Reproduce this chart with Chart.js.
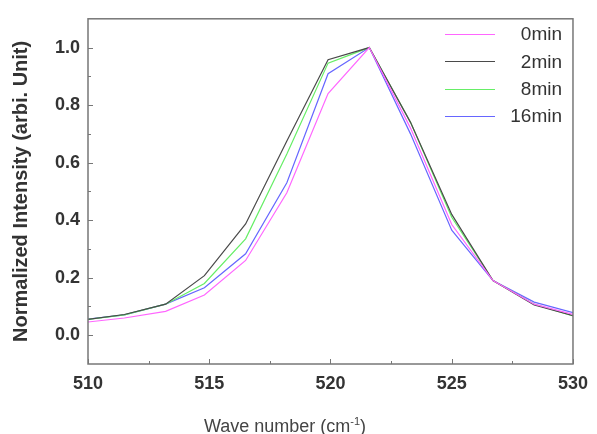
<!DOCTYPE html>
<html>
<head>
<meta charset="utf-8">
<script src="https://cdn.jsdelivr.net/npm/chart.js@4"></script>
<style>
  html, body { margin: 0; padding: 0; background: #fff; }
  #wrap { width: 597px; height: 434px; position: relative; }
</style>
</head>
<body>
<div id="wrap"><canvas id="grafico"></canvas></div>
<script>
// dados
const waveNumber = [509.9, 511.5, 513.2, 514.8, 516.5, 518.2, 519.9, 521.6, 523.3, 525.0, 526.7, 528.4, 530.1];
const min0  = [0.045, 0.060, 0.083, 0.140, 0.260, 0.495, 0.840, 1.0, 0.720, 0.385, 0.190, 0.108, 0.070];
const min2  = [0.054, 0.072, 0.108, 0.207, 0.387, 0.675, 0.958, 1.0, 0.740, 0.420, 0.190, 0.105, 0.066];
const min8  = [0.054, 0.071, 0.108, 0.180, 0.335, 0.630, 0.946, 1.0, 0.740, 0.410, 0.190, 0.108, 0.065];
const min16 = [0.055, 0.071, 0.108, 0.165, 0.283, 0.530, 0.909, 1.0, 0.700, 0.365, 0.190, 0.115, 0.076];
const seriesNames = ['0min', '2min', '8min', '16min'];
const xTicks = [510, 515, 520, 525, 530];
const yTicks = [0.0, 0.2, 0.4, 0.6, 0.8, 1.0];

const cores = ['#ff66ff', '#4a4a4a', '#66ee66', '#6666ff'];
const series = [min0, min2, min8, min16];
const fonte = '"Liberation Sans", Arial, sans-serif';

function pontos(ys) {
  return waveNumber.map((x, i) => ({ x: x, y: ys[i] }));
}

// moldura, ticks para dentro, legenda e título do eixo x
const molduraPlugin = {
  id: 'moldura',
  afterDraw(chart) {
    const { ctx, chartArea: a, scales } = chart;
    ctx.save();
    ctx.strokeStyle = '#777';
    ctx.lineWidth = 1.5;
    ctx.strokeRect(a.left, a.top, a.right - a.left, a.bottom - a.top);

    ctx.lineWidth = 1;
    ctx.beginPath();
    for (let v = 510; v <= 530; v += 2.5) {
      const px = Math.round(scales.x.getPixelForValue(v)) + 0.5;
      const len = (v % 5 === 0) ? 5 : 3;
      ctx.moveTo(px, a.bottom);
      ctx.lineTo(px, a.bottom - len);
    }
    for (let k = 0; k <= 10; k++) {
      const py = Math.round(scales.y.getPixelForValue(k / 10)) + 0.5;
      const len = (k % 2 === 0) ? 5 : 3;
      ctx.moveTo(a.left, py);
      ctx.lineTo(a.left + len, py);
    }
    ctx.stroke();

    // legenda
    ctx.font = '19px ' + fonte;
    ctx.textAlign = 'right';
    ctx.textBaseline = 'middle';
    chart.data.datasets.forEach((ds, i) => {
      const y = 34 + i * 27.3;
      ctx.strokeStyle = ds.borderColor;
      ctx.lineWidth = 1.2;
      ctx.beginPath();
      ctx.moveTo(445, Math.round(y) + 0.5);
      ctx.lineTo(495, Math.round(y) + 0.5);
      ctx.stroke();
      ctx.fillStyle = '#333';
      ctx.fillText(ds.label, 562, y + 1);
    });

    // título do eixo x com expoente
    const t1 = 'Wave number (cm';
    const t2 = '-1';
    const t3 = ')';
    ctx.textAlign = 'left';
    ctx.textBaseline = 'alphabetic';
    ctx.fillStyle = '#444';
    const fG = '18px ' + fonte;
    const fP = '11px ' + fonte;
    ctx.font = fG; const w1 = ctx.measureText(t1).width; const w3 = ctx.measureText(t3).width;
    ctx.font = fP; const w2 = ctx.measureText(t2).width;
    let x0 = 285 - (w1 + w2 + w3) / 2;
    const base = 432;
    ctx.font = fG; ctx.fillText(t1, x0, base);
    ctx.font = fP; ctx.fillText(t2, x0 + w1, base - 7);
    ctx.font = fG; ctx.fillText(t3, x0 + w1 + w2, base);
    ctx.restore();
  }
};

const ctx = document.getElementById('grafico');

new Chart(ctx, {
  type: 'scatter',
  data: {
    datasets: series.map((ys, i) => ({
      label: seriesNames[i],
      data: pontos(ys),
      showLine: true,
      borderColor: cores[i],
      backgroundColor: cores[i],
      borderWidth: 1.2,
      pointRadius: 0,
      tension: 0
    }))
  },
  options: {
    responsive: true,
    maintainAspectRatio: false,
    animation: false,
    layout: { padding: { top: 14, right: 21, left: 0, bottom: 0 } },
    plugins: {
      legend: { display: false },
      tooltip: { enabled: false }
    },
    scales: {
      x: {
        type: 'linear',
        min: 510,
        max: 530,
        afterBuildTicks: (s) => { s.ticks = xTicks.map(v => ({ value: v })); },
        afterFit: (s) => { s.height = 70; },
        grid: { display: false, drawTicks: false },
        border: { display: false },
        ticks: {
          color: '#333',
          padding: 9,
          font: { family: fonte, size: 18, weight: 'bold' }
        }
      },
      y: {
        type: 'linear',
        min: -0.1,
        max: 1.1,
        afterBuildTicks: (s) => { s.ticks = yTicks.map(v => ({ value: v })); },
        afterFit: (s) => { s.width = 88; },
        grid: { display: false, drawTicks: false },
        border: { display: false },
        ticks: {
          color: '#333',
          padding: 8,
          callback: (v) => v.toFixed(1),
          font: { family: fonte, size: 18, weight: 'bold' }
        },
        title: {
          display: true,
          text: 'Normalized Intensity (arbi. Unit)',
          color: '#333',
          padding: { top: 9, bottom: 0 },
          font: { family: fonte, size: 20, weight: 'bold' }
        }
      }
    }
  },
  plugins: [molduraPlugin]
});
</script>
</body>
</html>
